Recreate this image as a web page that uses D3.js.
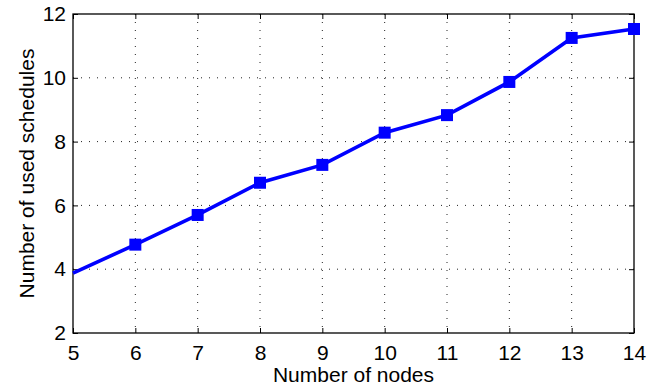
<!DOCTYPE html>
<html><head><meta charset="utf-8">
<script src="https://cdn.jsdelivr.net/npm/d3@7/dist/d3.min.js"></script>
<style>
body{margin:0;background:#fff;}
text{font-family:"Liberation Sans",Arial,Helvetica,sans-serif;fill:#000;}
</style></head><body>
<svg id="c" width="669" height="389"></svg>
<script>
const nodes = [5, 6, 7, 8, 9, 10, 11, 12, 13, 14];
const schedules = [3.88, 4.77, 5.70, 6.71, 7.27, 8.28, 8.83, 9.87, 11.25, 11.53];
const xTicks = [5, 6, 7, 8, 9, 10, 11, 12, 13, 14];
const yTicks = [2, 4, 6, 8, 10, 12];
const xLabel = "Number of nodes";
const yLabel = "Number of used schedules";

const svg = d3.select("#c");
const L = 73, R = 634, T = 14, B = 333;
const x = d3.scaleLinear().domain([5, 14]).range([L, R]);
const y = d3.scaleLinear().domain([2, 12]).range([B, T]);
const FS = "21px";

const g = svg.append("g");
// grid
g.selectAll(".gx").data(xTicks.slice(1, -1)).enter().append("line")
  .attr("x1", d => x(d)).attr("x2", d => x(d)).attr("y1", T).attr("y2", B)
  .attr("stroke", "#222").attr("stroke-width", 1).attr("stroke-dasharray", "1,7");
g.selectAll(".gy").data(yTicks.slice(1, -1)).enter().append("line")
  .attr("y1", d => y(d)).attr("y2", d => y(d)).attr("x1", L).attr("x2", R)
  .attr("stroke", "#222").attr("stroke-width", 1).attr("stroke-dasharray", "1,7");

// axes
const tk = 5;
const axB = d3.axisBottom(x).tickValues(xTicks).tickSize(-tk).tickPadding(12);
const axL = d3.axisLeft(y).tickValues(yTicks).tickSize(-tk).tickPadding(7);
const axT = d3.axisTop(x).tickValues(xTicks).tickSize(-tk).tickFormat("");
const axR = d3.axisRight(y).tickValues(yTicks).tickSize(-tk).tickFormat("");
function style(sel){
  sel.selectAll(".tick line").attr("stroke", "#000");
  sel.selectAll(".tick text").style("font-size", FS).attr("font-family", null);
}
svg.append("g").attr("transform", `translate(0,${B})`).call(axB).call(style);
svg.append("g").attr("transform", `translate(${L},0)`).call(axL).call(style);
svg.append("g").attr("transform", `translate(0,${T})`).call(axT).call(style);
svg.append("g").attr("transform", `translate(${R},0)`).call(axR).call(style);
svg.selectAll(".domain").remove();
svg.append("rect").attr("x", L).attr("y", T).attr("width", R - L).attr("height", B - T)
  .attr("fill", "none").attr("stroke", "#000").attr("stroke-width", 1.3);

// line
const pts = nodes.map((n, i) => [n, schedules[i]]);
svg.append("path").datum(pts)
  .attr("d", d3.line().x(d => x(d[0])).y(d => y(d[1])))
  .attr("fill", "none").attr("stroke", "#0000ff").attr("stroke-width", 3.6);
const ms = 12;
svg.selectAll(".m").data(pts.slice(1)).enter().append("rect")
  .attr("x", d => x(d[0]) - ms / 2).attr("y", d => y(d[1]) - ms / 2)
  .attr("width", ms).attr("height", ms).attr("fill", "#0000ff");

// labels
svg.append("text").attr("x", (L + R) / 2).attr("y", 382).attr("text-anchor", "middle")
  .style("font-size", FS).text(xLabel);
svg.append("text").attr("transform", `translate(34,${(T + B) / 2}) rotate(-90)`)
  .attr("text-anchor", "middle").style("font-size", FS).text(yLabel);
</script>
</body></html>
